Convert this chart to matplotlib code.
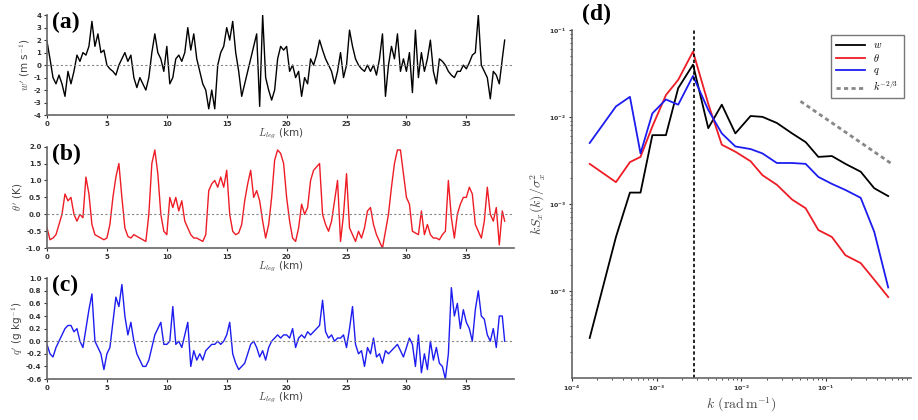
import numpy as np
import matplotlib
matplotlib.use('Agg')
import matplotlib.pyplot as plt

plt.rcParams['mathtext.fontset'] = 'cm'
plt.rcParams['font.family'] = 'DejaVu Sans'

# along-leg distance (km), read every 0.25 km
leg_km = list(np.arange(0, 38.01, 0.25)) + [38.2]

w_prime = [
    1.9, 0.5, -1.0, -1.5,   -0.8, -1.5, -2.5, -0.5,   -1.5, -0.5, 0.8, 0.3,
    1.0, 0.8, 1.5, 3.5,     1.5, 2.5, 1.0, 1.2,       0.0, -0.3, -0.5, -0.8,
    0.0, 0.5, 1.0, 0.3,     0.8, -1.0, -1.8, -1.0,    -1.5, -2.0, -1.0, 1.0,
    2.5, 1.0, 0.5, -0.5,    1.5, -1.5, -1.0, 0.5,     0.8, 0.3, 1.0, 3.0,
    1.2, 2.5, 0.5, -0.5,    -1.5, -2.0, -3.5, -2.0,   -3.5, 0.0, 1.0, 1.5,
    3.0, 2.0, 3.5, 1.0,     -0.5, -2.5, -1.5, -0.5,   0.5, 1.5, 2.5, -3.3,
    4.0, -1.0, -2.0, -2.8,  -2.0, 0.5, 1.5, 1.2,      1.5, -0.5, 0.0, -1.0,
    -0.5, -2.5, -1.0, -1.5, 0.5, 0.0, 0.8, 2.0,       1.2, 0.5, 0.0, -0.5,
    -1.5, -0.5, 1.0, -1.0,  0.0, 2.8, 1.5, 0.5,       0.0, -0.3, -0.5, 0.0,
    -0.5, 0.0, -0.8, 0.5,   2.5, -2.5, 0.0, 1.5,      0.5, 2.5, -0.5, 0.5,
    -0.5, 1.0, -2.2, 2.8,   -1.0, 1.0, -0.5, 0.5,     2.0, -0.5, -1.5, 0.5,
    0.3, 0.0, -0.5, -0.8,   -1.0, -0.5, -0.5, 0.0,    -0.3, 0.2, 0.8, 1.0,
    4.0, 0.0, -0.5, -1.0,   -2.7, -0.5, -0.8, -1.5,   0.5, 2.0,
]

theta_prime = [
    -0.4, -0.75, -0.7, -0.6,  -0.3, 0.0, 0.6, 0.4,      0.5, 0.0, -0.2, 0.0,
    -0.1, 1.1, 0.6, -0.3,     -0.6, -0.65, -0.7, -0.75, -0.7, -0.3, 0.5, 1.1,
    1.5, 0.5, -0.4, -0.65,    -0.7, -0.6, -0.65, -0.7,  -0.75, -0.8, 0.0, 1.5,
    1.9, 1.2, 0.0, -0.5,      -0.6, 0.5, 0.2, 0.5,      0.1, 0.4, -0.2, -0.4,
    -0.6, -0.7, -0.7, -0.75,  -0.8, -0.6, 0.7, 0.9,     1.0, 0.8, 1.1, 0.8,
    1.3, 0.0, -0.5, -0.6,     -0.55, -0.3, 0.4, 0.9,    1.3, 0.5, 0.7, 0.4,
    -0.2, -0.7, -0.3, 0.5,    1.6, 1.9, 1.8, 1.5,       0.5, -0.2, -0.7, -0.8,
    -0.4, 0.3, 0.0, 0.2,      1.0, 1.3, 1.4, 1.5,       0.0, -0.3, -0.5, -0.2,
    0.4, 1.0, -0.8, 0.0,      1.2, -0.4, -0.6, -0.8,    -0.5, -0.7, -0.4, 0.1,
    0.2, -0.3, -0.6, -0.8,    -1.0, -0.5, 0.0, 0.8,     1.5, 1.9, 1.9, 1.2,
    0.5, 0.3, -0.5, -0.55,    -0.6, 0.1, -0.6, -0.3,    -0.6, -0.7, -0.7, -0.75,
    -0.6, -0.5, 1.0, -0.1,    -0.7, 0.0, 0.3, 0.5,      0.5, 0.8, 0.6, -0.3,
    -0.5, -0.7, -0.2, 0.8,    0.0, -0.2, 0.2, -0.9,     0.1, -0.2,
]

q_prime = [
    -0.05, -0.2, -0.25, -0.1,  0.0, 0.1, 0.2, 0.25,       0.25, 0.15, 0.2, 0.0,
    -0.1, 0.2, 0.5, 0.75,      0.0, -0.1, -0.2, -0.45,    -0.2, -0.1, 0.3, 0.7,
    0.55, 0.9, 0.4, 0.1,       0.3, 0.0, -0.2, -0.3,      -0.4, -0.4, -0.3, -0.1,
    0.1, 0.2, 0.3, -0.05,      -0.05, 0.0, 0.55, -0.05,   0.0, -0.1, 0.1, 0.3,
    -0.4, -0.15, -0.3, -0.2,   -0.3, -0.15, -0.1, -0.05,  -0.05, 0.0, -0.05, 0.0,
    0.1, 0.3, -0.2, -0.35,     -0.45, -0.4, -0.35, -0.2,  -0.05, 0.0, -0.1, -0.25,
    -0.15, -0.3, -0.1, 0.0,    0.05, 0.1, 0.05, 0.1,      0.1, 0.05, 0.2, -0.1,
    0.05, 0.1, 0.05, 0.15,     0.1, 0.15, 0.2, 0.25,      0.65, 0.15, 0.05, 0.1,
    0.0, 0.05, 0.05, 0.1,      -0.1, 0.2, 0.55, -0.05,    -0.2, -0.15, -0.4, -0.1,
    -0.2, 0.05, -0.25, -0.2,   -0.35, -0.15, -0.2, -0.15, -0.1, -0.05, -0.15, -0.25,
    -0.1, 0.05, -0.05, -0.4,   0.1, -0.5, -0.2, -0.45,    0.0, -0.3, -0.1, -0.35,
    -0.4, -0.6, -0.2, 0.85,    0.4, 0.6, 0.2, 0.5,        0.3, 0.2, 0.0, 0.5,
    0.8, 0.4, 0.35, 0.1,       0.0, 0.2, -0.1, 0.4,       0.4, 0.0,
]

# spectra, log10 values
log_k = [-3.79, -3.48, -3.315, -3.19, -3.05, -2.89, -2.745, -2.57, -2.39, -2.23, -2.07,
         -1.89, -1.75, -1.58, -1.40, -1.24, -1.09, -0.93, -0.77, -0.59, -0.43, -0.265]
log_spec_w = [-4.54, -3.38, -2.87, -2.87, -2.21, -2.21, -1.67, -1.40, -2.13, -1.86, -2.19,
              -1.99, -2.0, -2.07, -2.19, -2.29, -2.46, -2.45, -2.54, -2.63, -2.82, -2.91]
log_spec_theta = [-2.54, -2.75, -2.52, -2.46, -2.11, -1.75, -1.575, -1.25, -1.85, -2.32, -2.40,
                  -2.51, -2.67, -2.78, -2.95, -3.05, -3.30, -3.38, -3.59, -3.68, -3.87, -4.07]
log_spec_q = [-2.30, -1.88, -1.77, -2.42, -1.96, -1.80, -1.86, -1.53, -1.92, -2.19, -2.34,
              -2.37, -2.42, -2.53, -2.53, -2.54, -2.69, -2.77, -2.84, -2.93, -3.32, -3.96]
ref_k = [0.05, 0.60]
ref_spec = [1.51e-2, 2.88e-3]
k_peak = 2.75e-3

fig = plt.figure(figsize=(9.18, 4.2), dpi=100)

tick_kw = dict(labelsize=5, width=0.8, length=2.5, pad=1.5, colors='#333333')
label_kw = dict(fontsize=7.5, color='#444444')
spine_col = '#666666'

def style_axes(ax):
    for s in ['top', 'right']:
        ax.spines[s].set_visible(False)
    for s in ['left', 'bottom']:
        ax.spines[s].set_color(spine_col)
        ax.spines[s].set_linewidth(1.2)
    ax.tick_params(**tick_kw)
    for t in ax.get_xticklabels() + ax.get_yticklabels():
        t.set_fontweight('bold')

panels = [
    ('(a)', w_prime, 'k', [0.0512, 0.726, 0.509, 0.238], (-4, 4), np.arange(-4, 5, 1),
     r"$w'$ (m s$^{-1}$)", '%d'),
    ('(b)', theta_prime, '#ee1c25', [0.0512, 0.409, 0.509, 0.242], (-1.0, 2.0),
     np.arange(-1.0, 2.01, 0.5), r"$\theta'$ (K)", '%.1f'),
    ('(c)', q_prime, '#1c1cf0', [0.0512, 0.0976, 0.509, 0.240], (-0.6, 1.0),
     np.arange(-0.6, 1.01, 0.2), r"$q'$ (g kg$^{-1}$)", '%.1f'),
]

for tag, series, col, pos, ylim, yticks, ylab, fmt in panels:
    ax = fig.add_axes(pos)
    ax.plot(leg_km, series, color=col, linewidth=1.0)
    ax.axhline(0, color='#888888', linestyle='--', linewidth=0.8, dashes=(2, 2))
    ax.set_xlim(0, 39)
    ax.set_ylim(*ylim)
    ax.set_xticks(np.arange(0, 36, 5))
    ax.set_yticks(yticks)
    ax.set_yticklabels([fmt % v for v in yticks])
    ax.set_xlabel(r'$L_{leg}$ (km)', labelpad=0, **label_kw)
    ax.set_ylabel(ylab, labelpad=1, **label_kw)
    style_axes(ax)
    ax.text(0.01, 1.03, tag, transform=ax.transAxes, fontsize=17, fontweight='bold',
            family='Liberation Serif', va='top', ha='left')

# spectrum panel
ax = fig.add_axes([0.623, 0.1, 0.369, 0.829])
k = 10 ** np.array(log_k)
ax.plot(k, 10 ** np.array(log_spec_w), color='k', linewidth=1.3, label=r'$w$')
ax.plot(k, 10 ** np.array(log_spec_theta), color='#ee1c25', linewidth=1.3, label=r'$\theta$')
ax.plot(k, 10 ** np.array(log_spec_q), color='#1c1cf0', linewidth=1.3, label=r'$q$')
ax.plot(ref_k, ref_spec, color='#888888', linestyle=(0, (1.5, 1.2)), linewidth=2,
        label=r'$k^{-2/3}$')
ax.axvline(k_peak, color='k', linestyle='--', linewidth=1.2, dashes=(2, 1.5))
ax.set_xscale('log')
ax.set_yscale('log')
ax.set_xlim(1e-4, 1e0)
ax.set_ylim(1e-5, 1e-1)
ax.set_xticks([1e-4, 1e-3, 1e-2, 1e-1])
ax.set_yticks([1e-4, 1e-3, 1e-2, 1e-1])
ax.set_xlabel(r'$k$ $(\mathrm{rad\,m^{-1}})$', fontsize=10, color='#444444', labelpad=2)
ax.set_ylabel(r'$kS_x(k)/\sigma_x^2$', fontsize=10, color='#444444')
style_axes(ax)
ax.tick_params(labelsize=4.5)
ax.tick_params(which='minor', length=1.5, width=0.6, colors='#333333')
ax.yaxis.set_label_coords(-0.075, 0.5)
leg = ax.legend(loc='upper right', bbox_to_anchor=(0.995, 1.0), fontsize=7.5,
                handlelength=2.8, fancybox=False, framealpha=1, borderpad=0.5,
                labelspacing=0.15, edgecolor='#777777')
leg.get_frame().set_linewidth(1.0)
ax.text(0.03, 1.075, '(d)', transform=ax.transAxes, fontsize=17, fontweight='bold',
        family='Liberation Serif', va='top', ha='left')

plt.savefig('out.png', dpi=100)
